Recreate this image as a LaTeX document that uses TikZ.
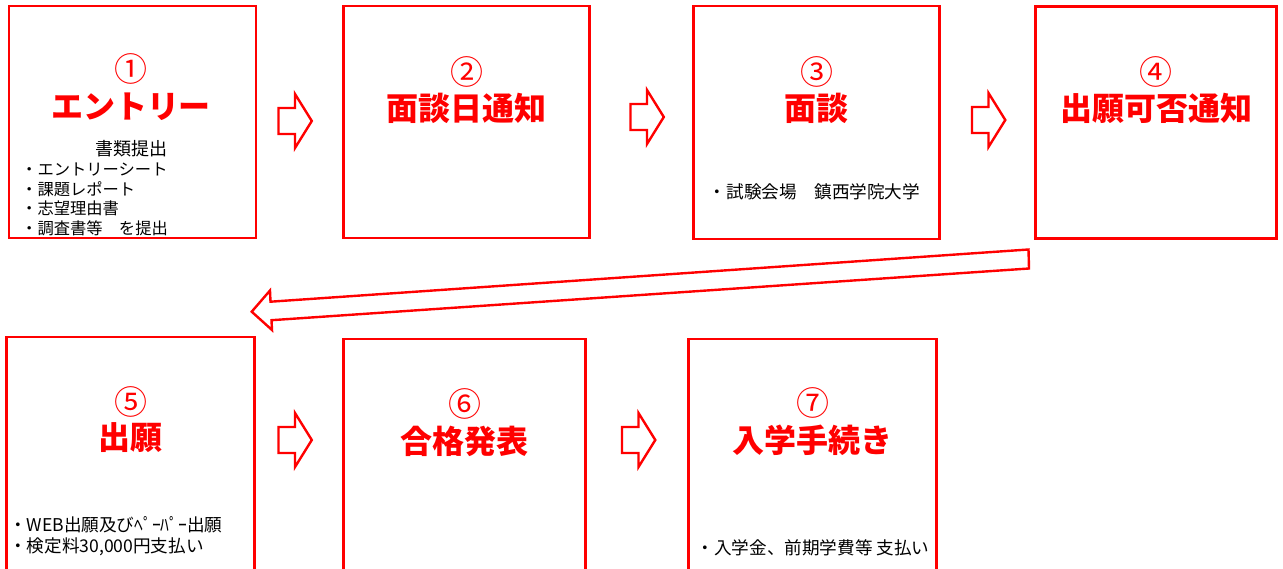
\documentclass[tikz,border=0pt]{standalone}
\usepackage{fontspec}
\setmainfont{Noto Sans CJK JP}
\begin{document}
\begin{tikzpicture}[x=1pt,y=-1pt,
  box/.style={draw=red, line width=2.6pt, rectangle, inner sep=0pt},
  numtxt/.style={text=red, font=\fontsize{33}{36}\selectfont, inner sep=0pt},
  ttl/.style={text=red, font=\bfseries\fontsize{32}{35}\selectfont, inner sep=0pt},
  body/.style={text=black, font=\fontsize{17.6}{20}\selectfont, inner sep=0pt},
  listtxt/.style={text=black, font=\fontsize{16.3}{19.4}\selectfont, inner sep=0pt},
  blockarrow/.style={draw=red, line width=2.4pt, fill=white, line join=miter}
]
\clip (0,0) rectangle (1283,569);
\fill[white] (0,0) rectangle (1283,569);

% boxes
\node[box, minimum width=247pt, minimum height=232pt] (b1) at (132.5,122) {};
\node[box, minimum width=246pt, minimum height=232pt] (b2) at (466.5,122) {};
\node[box, minimum width=246pt, minimum height=233pt] (b3) at (816.5,122.5) {};
\node[box, minimum width=241pt, minimum height=232pt] (b4) at (1156,122.5) {};
\node[box, minimum width=248pt, minimum height=234pt] (b5) at (130.5,454) {};
\node[box, minimum width=242pt, minimum height=232pt] (b6) at (464.5,455) {};
\node[box, minimum width=248pt, minimum height=232pt] (b7) at (812.5,455) {};

% box 1
\node[numtxt] (n1) at (131,69) {①};
\node[ttl] (t1) at (131,107) {エントリー};
\node[body, font=\fontsize{18}{20}\selectfont] (s1) at (131,149) {書類提出};
\node[listtxt, anchor=north west, align=left] (l1) at (21,163)
  {・エントリーシート\\・課題レポート\\・志望理由書\\・調査書等　を提出};

% box 2
\node[numtxt] (n2) at (466.5,72) {②};
\node[ttl] (t2) at (466.5,108) {面談日通知};

% box 3
\node[numtxt] (n3) at (816.5,72) {③};
\node[ttl] (t3) at (816.5,108) {面談};
\node[body] (l3) at (814.5,192) {・試験会場　鎮西学院大学};

% box 4
\node[numtxt] (n4) at (1156,72) {④};
\node[ttl] (t4) at (1156,108) {出願可否通知};

% box 5
\node[numtxt] (n5) at (130.5,402) {⑤};
\node[ttl] (t5) at (130.5,438) {出願};
\node[body, anchor=west, align=left, font=\fontsize{17.6}{21.5}\selectfont] (l5) at (9,536)
  {・WEB出願及びﾍﾟｰﾊﾟｰ出願\\・検定料30,000円支払い};

% box 6
\node[numtxt] (n6) at (464.5,404) {⑥};
\node[ttl] (t6) at (464.5,441) {合格発表};

% box 7
\node[numtxt] (n7) at (812.5,403) {⑦};
\node[ttl] (t7) at (812.5,440) {入学手続き};
\node[body] (l7) at (813,548) {・入学金、前期学費等 支払い};

% small block arrows
\foreach \name/\x/\y in {a12/278.5/121, a23/630.5/117, a34/972/120, a56/278.5/440, a67/622/440}{
  \coordinate (\name) at (\x,\y);
  \draw[blockarrow] (\name) ++(0,-13) -- ++(16.5,0) -- ++(0,-14) -- ++(16.8,27)
     -- ++(-16.8,27) -- ++(0,-14) -- ++(-16.5,0) -- cycle;
}

% long block arrow from box 4 to box 5
\coordinate (la) at (1028.5,249.5);
\coordinate (lb) at (1029,268.5);
\coordinate (tip) at (251.7,311.7);
\draw[blockarrow] (la) -- (270.5,301.7) -- (270,290.5) -- (tip) -- (272,330)
   -- (271.5,320.2) -- (lb) -- cycle;
\end{tikzpicture}
\end{document}
